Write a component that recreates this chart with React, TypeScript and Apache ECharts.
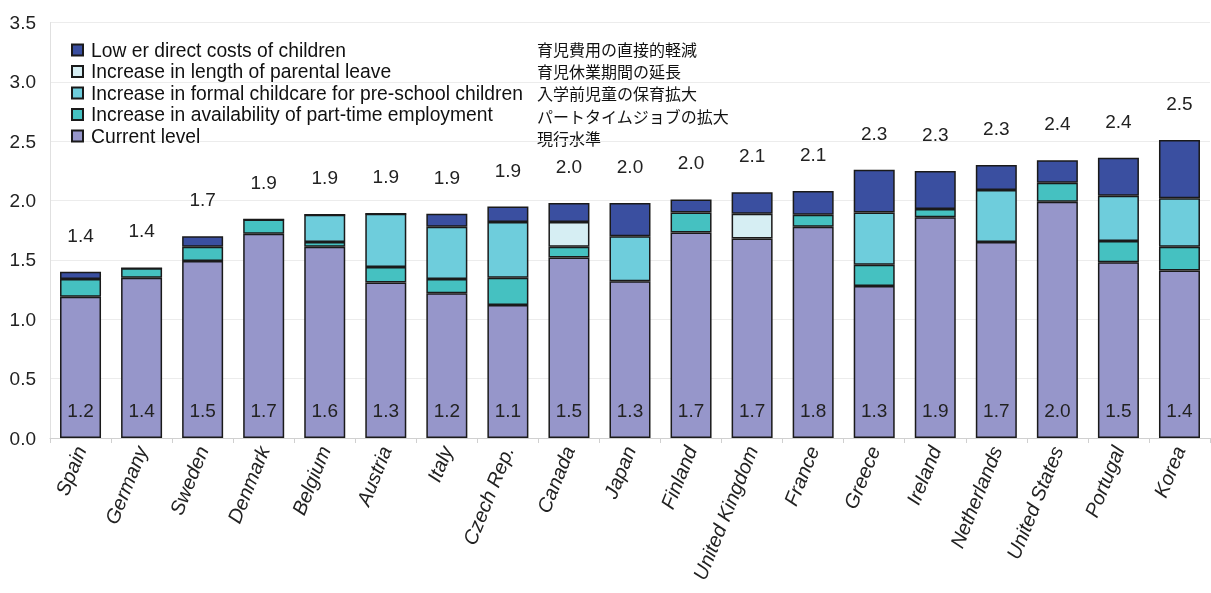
import React, { useEffect, useRef } from "react";
import * as echarts from "echarts";

const categories = ["Spain", "Germany", "Sweden", "Denmark", "Belgium", "Austria", "Italy", "Czech Rep.", "Canada", "Japan", "Finland", "United Kingdom", "France", "Greece", "Ireland", "Netherlands", "United States", "Portugal", "Korea"];
const currentLevel = [1.19, 1.35, 1.49, 1.72, 1.61, 1.31, 1.22, 1.12, 1.52, 1.32, 1.73, 1.68, 1.78, 1.28, 1.86, 1.65, 1.99, 1.48, 1.41];
const partTime = [0.15, 0.08, 0.12, 0.12, 0.04, 0.13, 0.12, 0.23, 0.09, 0, 0.17, 0, 0.10, 0.18, 0.07, 0, 0.16, 0.18, 0.20];
const formalChildcare = [0, 0, 0, 0, 0.23, 0.45, 0.44, 0.47, 0, 0.38, 0, 0, 0, 0.44, 0, 0.44, 0, 0.38, 0.41];
const parentalLeave = [0, 0, 0, 0, 0, 0, 0, 0, 0.21, 0, 0, 0.21, 0, 0, 0, 0, 0, 0, 0];
const lowerCosts = [0.06, 0, 0.09, 0, 0, 0, 0.11, 0.13, 0.16, 0.28, 0.11, 0.18, 0.20, 0.36, 0.32, 0.21, 0.19, 0.32, 0.49];
const totalLabels = ["1.4", "1.4", "1.7", "1.9", "1.9", "1.9", "1.9", "1.9", "2.0", "2.0", "2.0", "2.1", "2.1", "2.3", "2.3", "2.3", "2.4", "2.4", "2.5"];
const currentLabels = ["1.2", "1.4", "1.5", "1.7", "1.6", "1.3", "1.2", "1.1", "1.5", "1.3", "1.7", "1.7", "1.8", "1.3", "1.9", "1.7", "2.0", "1.5", "1.4"];
const seriesNames = ["Current level", "Increase in availability of part-time employment", "Increase in formal childcare for pre-school children", "Increase in length of parental leave", "Low er direct costs of children"];
const legendOrder = ["Low er direct costs of children", "Increase in length of parental leave", "Increase in formal childcare for pre-school children", "Increase in availability of part-time employment", "Current level"];
const japaneseLabels = ["育児費用の直接的軽減", "育児休業期間の延長", "入学前児童の保育拡大", "パートタイムジョブの拡大", "現行水準"];
const yTicks = [0, 0.5, 1.0, 1.5, 2.0, 2.5, 3.0, 3.5];

const colors = ["#9696CA", "#45C1C1", "#6ECDDC", "#D6EEF3", "#3A4FA0"];
const FONT = "'Liberation Sans', Arial, sans-serif";

export default function App() {
  const ref = useRef<HTMLDivElement>(null);
  useEffect(() => {
    if (!ref.current) return;
    const chart = echarts.init(ref.current, null, { renderer: "svg" });
    const dataSets = [currentLevel, partTime, formalChildcare, parentalLeave, lowerCosts];
    const series: any[] = dataSets.map((d, i) => {
      const s: any = {
        name: seriesNames[i],
        type: "bar",
        stack: "total",
        data: d.map((v) => (v === 0 && i !== 4 && i !== 0 ? "-" : v)),
        barWidth: 41,
        itemStyle: { color: colors[i], borderColor: "#1a1a1a", borderWidth: 1.5 },
        emphasis: { disabled: true },
      };
      if (i === 0) {
        s.label = {
          show: true,
          position: "insideBottom",
          distance: 18,
          fontSize: 19,
          fontFamily: FONT,
          color: "#222",
          formatter: (p: any) => currentLabels[p.dataIndex],
        };
      }
      if (i === 4) {
        s.label = {
          show: true,
          position: "top",
          distance: 27,
          fontSize: 19,
          fontFamily: FONT,
          color: "#222",
          formatter: (p: any) => totalLabels[p.dataIndex],
        };
      }
      return s;
    });
    chart.setOption({
      animation: false,
      grid: { left: 50, right: 1, top: 22.5, bottom: 155, containLabel: false },
      legend: {
        data: legendOrder,
        orient: "vertical",
        left: 66,
        top: 35,
        icon: "rect",
        itemWidth: 11,
        itemHeight: 11,
        itemGap: 1.5,
        selectedMode: false,
        textStyle: { fontSize: 19.3, fontFamily: FONT, color: "#111", lineHeight: 20, padding: [0, 0, 0, 3] },
      },
      xAxis: {
        type: "category",
        data: categories,
        axisLine: { show: true, lineStyle: { color: "#d0d0d0" } },
        axisTick: { show: true, length: 5, lineStyle: { color: "#d0d0d0" } },
        axisLabel: {
          rotate: 68,
          fontSize: 20,
          fontStyle: "italic",
          fontFamily: FONT,
          color: "#222",
          margin: 9,
          interval: 0,
        },
      },
      yAxis: {
        type: "value",
        min: 0,
        max: 3.5,
        interval: 0.5,
        axisLine: { show: true, lineStyle: { color: "#e0e0e0" } },
        axisTick: { show: false },
        splitLine: { show: true, lineStyle: { color: "#ececec" } },
        axisLabel: {
          fontSize: 19,
          fontFamily: FONT,
          color: "#222",
          margin: 14,
          formatter: (v: number) => (yTicks.includes(v) ? v.toFixed(1) : ""),
        },
      },
      graphic: japaneseLabels.map((t, i) => ({
        type: "text",
        left: 537,
        top: 41 + i * 22.2,
        style: { text: t, fontSize: 16, fontFamily: "'Noto Sans CJK JP', sans-serif", fill: "#111" },
      })),
      series,
    });
    return () => chart.dispose();
  }, []);
  return <div ref={ref} style={{ position: "fixed", left: 0, top: 0, width: 1211, height: 593 }} />;
}
